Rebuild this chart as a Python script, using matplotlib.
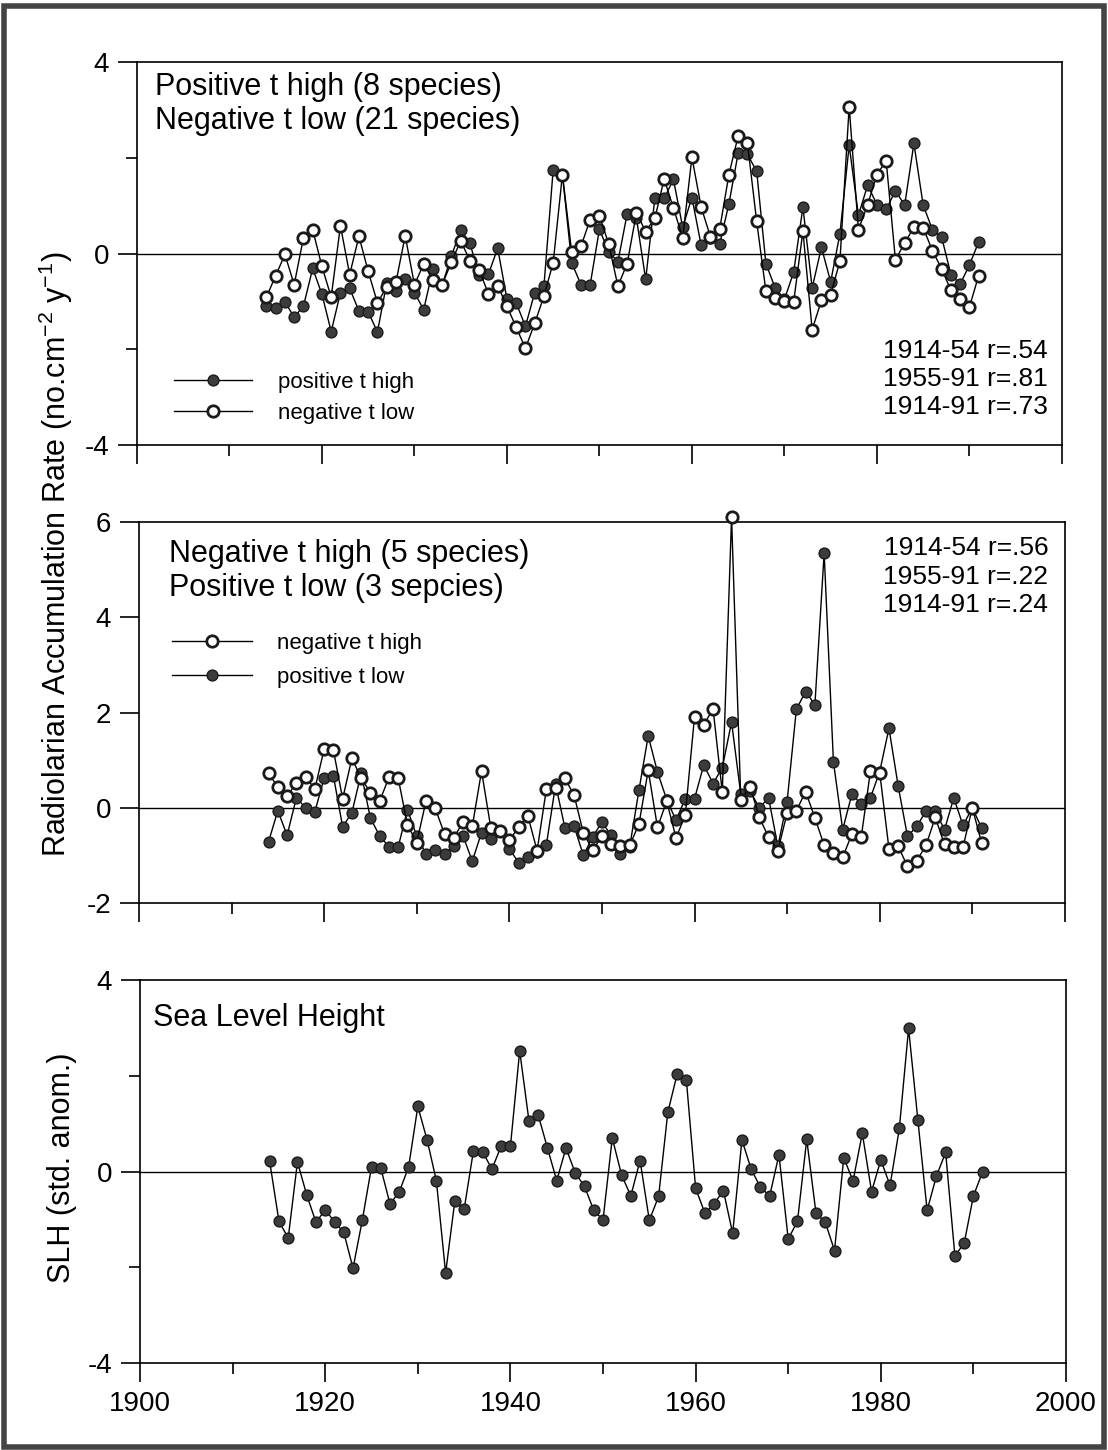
# radiolarian accumulation rates vs sea level height, three stacked panels

import numpy as np
import matplotlib
matplotlib.use('Agg')
import matplotlib.pyplot as plt
from matplotlib.lines import Line2D
from matplotlib.patches import Rectangle

plt.rcParams['font.family'] = ['Liberation Sans', 'DejaVu Sans']
plt.rcParams['mathtext.default'] = 'regular'
plt.rcParams['axes.unicode_minus'] = False

# data, one value per year 1914-1991
years = np.arange(1914, 1992)

# panel 1
pos_t_high = [-1.10, -1.13, -1.01, -1.33, -1.10, -0.31, -0.85, -1.63, -0.82, -0.73,
              -1.20, -1.22, -1.64, -0.62, -0.79, -0.53, -0.82, -1.17, -0.33, -0.66,
              -0.05, 0.49, 0.21, -0.45, -0.43, 0.11, -0.95, -1.03, -1.52, -0.82,
              -0.68, 1.75, 1.65, -0.19, -0.65, -0.65, 0.51, 0.03, -0.17, 0.83,
              0.74, -0.54, 1.17, 1.15, 1.55, 0.55, 1.17, 0.17, 0.33, 0.20,
              1.04, 2.10, 2.07, 1.72, -0.21, -0.72, -0.96, -0.39, 0.97, -0.72,
              0.13, -0.59, 0.41, 2.26, 0.80, 1.43, 1.02, 0.92, 1.31, 1.01,
              2.30, 1.01, 0.50, 0.34, -0.44, -0.64, -0.24, 0.24]
neg_t_low = [-0.91, -0.46, -0.02, -0.65, 0.33, 0.50, -0.27, -0.91, 0.58, -0.44,
             0.36, -0.37, -1.03, -0.70, -0.60, 0.37, -0.65, -0.22, -0.55, -0.65,
             -0.18, 0.27, -0.15, -0.35, -0.84, -0.67, -1.10, -1.54, -1.98, -1.46,
             -0.89, -0.19, 1.65, 0.03, 0.15, 0.71, 0.79, 0.20, -0.68, -0.21,
             0.85, 0.46, 0.74, 1.56, 0.95, 0.33, 2.01, 0.97, 0.35, 0.51,
             1.65, 2.46, 2.31, 0.67, -0.79, -0.93, -1.00, -1.01, 0.47, -1.59,
             -0.98, -0.86, -0.16, 3.07, 0.50, 1.02, 1.65, 1.94, -0.13, 0.22,
             0.55, 0.54, 0.06, -0.32, -0.77, -0.94, -1.12, -0.46]

# panel 2
neg_t_high = [0.72, 0.44, 0.25, 0.52, 0.64, 0.40, 1.23, 1.21, 0.19, 1.04,
              0.62, 0.32, 0.14, 0.64, 0.62, -0.36, -0.73, 0.14, -0.01, -0.55,
              -0.63, -0.30, -0.39, 0.77, -0.42, -0.49, -0.68, -0.41, -0.17, -0.90,
              0.39, 0.42, 0.62, 0.26, -0.53, -0.89, -0.60, -0.77, -0.80, -0.79,
              -0.34, 0.79, -0.41, 0.14, -0.63, -0.16, 1.91, 1.74, 2.08, 0.33,
              6.10, 0.16, 0.44, -0.20, -0.62, -0.90, -0.11, -0.06, 0.34, -0.21,
              -0.79, -0.95, -1.04, -0.55, -0.62, 0.77, 0.74, -0.86, -0.81, -1.23,
              -1.11, -0.79, -0.20, -0.77, -0.82, -0.82, 0.00, -0.73]
pos_t_low = [-0.71, -0.06, -0.58, 0.21, 0.00, -0.08, 0.62, 0.67, -0.40, -0.10,
             0.72, -0.22, -0.59, -0.82, -0.82, -0.04, -0.59, -0.97, -0.88, -0.97,
             -0.80, -0.59, -1.12, -0.52, -0.66, -0.49, -0.86, -1.15, -1.04, -0.93,
             -0.78, 0.49, -0.42, -0.39, -1.00, -0.61, -0.30, -0.58, -0.96, -0.82,
             0.37, 1.51, 0.75, 0.17, -0.26, 0.19, 0.19, 0.90, 0.51, 0.84,
             1.80, 0.28, 0.35, 0.00, 0.21, -0.81, 0.13, 2.07, 2.44, 2.16,
             5.35, 0.97, -0.46, 0.29, 0.07, 0.21, 0.76, 1.67, 0.45, -0.60,
             -0.39, -0.07, -0.07, -0.46, 0.21, -0.37, 0.00, -0.42]

# panel 3
slh = [0.21, -1.04, -1.39, 0.20, -0.49, -1.06, -0.80, -1.05, -1.27, -2.02,
       -1.02, 0.10, 0.07, -0.68, -0.42, 0.09, 1.36, 0.66, -0.19, -2.12,
       -0.61, -0.79, 0.43, 0.41, 0.05, 0.53, 0.53, 2.52, 1.06, 1.18,
       0.49, -0.19, 0.49, -0.03, -0.31, -0.81, -1.01, 0.70, -0.07, -0.51,
       0.23, -1.02, -0.52, 1.24, 2.03, 1.91, -0.35, -0.87, -0.67, -0.40,
       -1.29, 0.66, 0.05, -0.33, -0.51, 0.35, -1.41, -1.04, 0.67, -0.87,
       -1.06, -1.65, 0.29, -0.20, 0.80, -0.42, 0.24, -0.29, 0.90, 2.99,
       1.08, -0.81, -0.10, 0.40, -1.76, -1.50, -0.51, 0.00]

# marker styles
filled = dict(marker='o', ms=7.8, mfc='#3c3c3c', mec='#1a1a1a', mew=1.0, color='black', lw=1.0)
hollow = dict(marker='o', ms=8.2, mfc='white', mec='#1a1a1a', mew=2.0, color='black', lw=1.0)


def setup(ax, ylim, major, minor, xlabels=False):
    ax.set_xlim(1900, 2000)
    ax.set_ylim(*ylim)
    ax.set_xticks(range(1900, 2001, 20))
    ax.set_xticks(range(1910, 2000, 20), minor=True)
    ax.set_yticks(major)
    ax.set_yticks(minor, minor=True)
    ax.tick_params(which='major', direction='out', length=14, width=1.2, labelsize=20, pad=6)
    ax.tick_params(which='minor', direction='out', length=8, width=1.2)
    ax.tick_params(labelbottom=xlabels)
    ax.axhline(0, color='black', lw=1.0, zorder=1)
    for s in ax.spines.values():
        s.set_linewidth(1.2)


fig = plt.figure(figsize=(11.08, 14.5), dpi=100)

ax1 = fig.add_axes([0.1236, 0.6931, 0.8348, 0.2641])
ax2 = fig.add_axes([0.1254, 0.3772, 0.8357, 0.2628])
ax3 = fig.add_axes([0.1264, 0.0600, 0.8357, 0.2641])

# top panel
setup(ax1, (-4, 4), [-4, 0, 4], [-2, 2])
ax1.plot(years, pos_t_high, zorder=3, **filled)
ax1.plot(years, neg_t_low, zorder=4, **hollow)
ax1.text(0.019, 0.975, 'Positive t high (8 species)\nNegative t low (21 species)',
         transform=ax1.transAxes, ha='left', va='top', fontsize=22, linespacing=1.18)
ax1.text(0.985, 0.278, '1914-54 r=.54\n1955-91 r=.81\n1914-91 r=.73',
         transform=ax1.transAxes, ha='right', va='top', fontsize=19, linespacing=1.22)
h1 = [Line2D([], [], **filled), Line2D([], [], **hollow)]
ax1.legend(h1, ['positive t high', 'negative t low'], loc='upper left',
           bbox_to_anchor=(0.04, 0.19), frameon=False, fontsize=16, handlelength=3.5,
           handletextpad=1.2, labelspacing=0.45, borderpad=0, borderaxespad=0)

# middle panel
setup(ax2, (-2, 6), [-2, 0, 2, 4, 6], [])
ax2.plot(years, pos_t_low, zorder=3, clip_on=False, **filled)
ax2.plot(years, neg_t_high, zorder=4, clip_on=False, **hollow)
ax2.text(0.033, 0.955, 'Negative t high (5 species)\nPositive t low (3 sepcies)',
         transform=ax2.transAxes, ha='left', va='top', fontsize=22, linespacing=1.18)
ax2.text(0.982, 0.962, '1914-54 r=.56\n1955-91 r=.22\n1914-91 r=.24',
         transform=ax2.transAxes, ha='right', va='top', fontsize=19, linespacing=1.22)
h2 = [Line2D([], [], **hollow), Line2D([], [], **filled)]
ax2.legend(h2, ['negative t high', 'positive t low'], loc='upper left',
           bbox_to_anchor=(0.036, 0.71), frameon=False, fontsize=16, handlelength=3.6,
           handletextpad=1.1, labelspacing=0.6, borderpad=0, borderaxespad=0)

# bottom panel
setup(ax3, (-4, 4), [-4, 0, 4], [-2, 2], xlabels=True)
ax3.plot(years, slh, zorder=3, **filled)
ax3.text(0.014, 0.9, 'Sea Level Height', transform=ax3.transAxes,
         ha='left', va='center', fontsize=22)

# axis labels
fig.text(0.05, 1 - 554 / 1450, 'Radiolarian Accumulation Rate (no.cm$^{-2}$ y$^{-1}$)',
         rotation=90, ha='center', va='center', fontsize=22)
fig.text(0.056, 1 - 1168 / 1450, 'SLH (std. anom.)',
         rotation=90, ha='center', va='center', fontsize=22)

# scanned page frame
fig.patches.append(Rectangle((0.004, 0.002), 0.992, 0.994, transform=fig.transFigure,
                             fill=False, lw=4, ec='#444444'))

plt.savefig('out.png', dpi=100)
